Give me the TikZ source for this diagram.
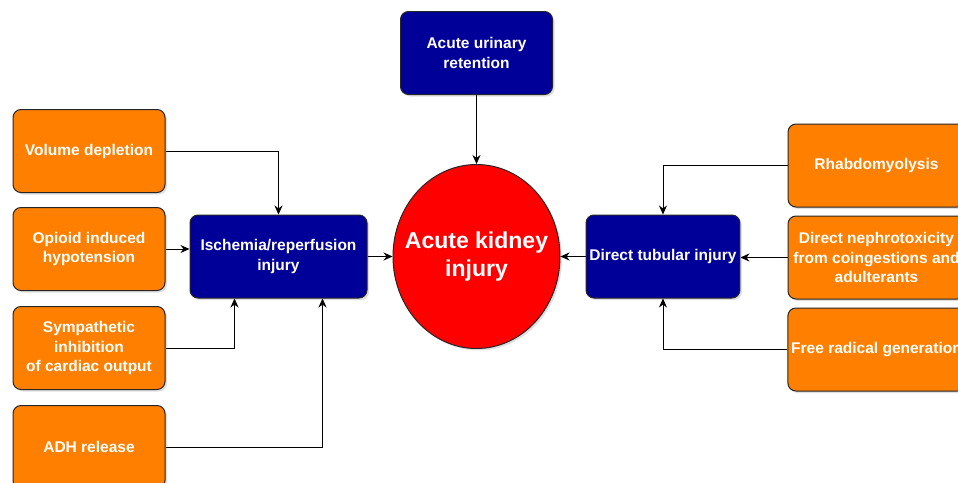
\documentclass[tikz,border=0pt]{standalone}
\usepackage{fontspec}
\setmainfont{Liberation Sans}
\usepackage{xcolor}
\usetikzlibrary{shapes, arrows.meta, positioning, shadows}
\definecolor{CauseOrange}{HTML}{FF8000}
\definecolor{MechNavy}{HTML}{000099}
\definecolor{AkiRed}{HTML}{FF0000}

\begin{document}
\begin{tikzpicture}[x=1pt, y=-1pt, every node/.style={font=\bfseries\fontsize{15.5}{19.5}\selectfont, text=white}]
      \tikzset{
        cause/.style={rectangle, rounded corners=8pt, draw=black!85, line width=1pt, fill=CauseOrange, minimum width=152pt, minimum height=83pt, align=center, drop shadow={opacity=0.25, shadow xshift=2pt, shadow yshift=-2pt}},
        mech/.style={rectangle, rounded corners=8pt, draw=black!85, line width=1pt, fill=MechNavy, minimum width=177pt, minimum height=83pt, align=center, drop shadow={opacity=0.25, shadow xshift=2pt, shadow yshift=-2pt}},
        aki/.style={ellipse, inner sep=0pt, draw=black!85, line width=1pt, fill=AkiRed, minimum width=167pt, minimum height=184pt, align=center, font=\bfseries\fontsize{23}{28}\selectfont, drop shadow={opacity=0.25, shadow xshift=2pt, shadow yshift=-2pt}},
        line/.style={-{Stealth[length=9pt, width=8pt]}, line width=0.8pt, color=black}
      }
      \useasboundingbox (0,0) rectangle (958,482);
      \node[aki] (akid) at (476.5,256.5) {\makebox[0pt]{Acute kidney}\\\makebox[0pt]{injury}};
      \node[mech, minimum width=152pt, above=69pt of akid] (retention) {Acute urinary\\retention};
      \node[mech, left=25pt of akid] (ischemia) {Ischemia/reperfusion\\injury};
      \node[mech, minimum width=152pt, right=25pt of akid] (tubular) {Direct tubular injury};

      \node[cause] (opioid) at (89,249) {Opioid induced\\hypotension};
      \node[cause, above=14pt of opioid] (volume) {Volume depletion};
      \node[cause, below=15pt of opioid] (sympath) {Sympathetic\\inhibition\\of cardiac output};
      \node[cause, below=15pt of sympath] (adh) {ADH release};

      \node[cause, minimum width=177pt] (rhabdo) at (876.5,165.5) {Rhabdomyolysis};
      \node[cause, minimum width=177pt, below=8pt of rhabdo] (nephro) {Direct nephrotoxicity\\from coingestions and\\adulterants};
      \node[cause, minimum width=177pt, below=8pt of nephro] (radical) {Free radical generation};

      \draw[line] (retention) -- (akid);
      \draw[line] (ischemia) -- (akid);
      \draw[line] (tubular) -- (akid);
      \draw[line] (volume) -| (ischemia);
      \draw[line] (opioid.east) -- (opioid.east -| ischemia.west);
      \draw[line] (sympath.east) -| ([xshift=-44pt]ischemia.south);
      \draw[line] (adh.east) -| ([xshift=44pt]ischemia.south);
      \draw[line] (rhabdo) -| (tubular);
      \draw[line] (nephro.west) -- (nephro.west -| tubular.east);
      \draw[line] (radical) -| (tubular);
    \end{tikzpicture}
\end{document}
